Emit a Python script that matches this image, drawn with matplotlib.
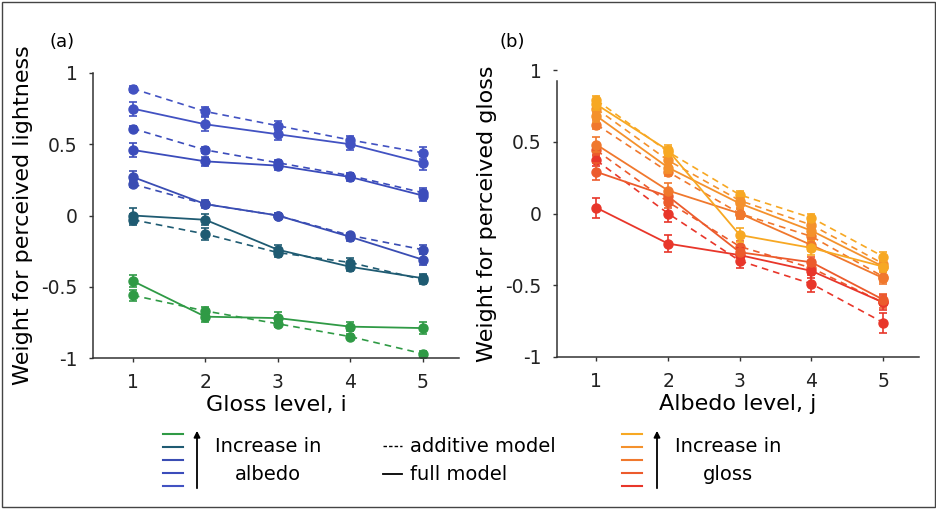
import numpy as np
import matplotlib
matplotlib.use('Agg')
import matplotlib.pyplot as plt
from matplotlib.lines import Line2D
from matplotlib.patches import Rectangle

plt.rcParams['font.family'] = ['DejaVu Sans']

levels = [1, 2, 3, 4, 5]

# panel (a): lightness weights, one row per albedo level (low -> high)
albedo_colors = ['#2f9a45', '#1f5b72', '#3a4db3', '#3b4cbb', '#4252c2']
light_full = [
    [-0.46, -0.71, -0.72, -0.78, -0.79],
    [0.00, -0.03, -0.24, -0.36, -0.44],
    [0.27, 0.08, 0.00, -0.15, -0.31],
    [0.46, 0.38, 0.35, 0.27, 0.14],
    [0.75, 0.64, 0.57, 0.50, 0.37],
]
light_full_err = [
    [0.04, 0.04, 0.04, 0.03, 0.04],
    [0.05, 0.04, 0.03, 0.03, 0.03],
    [0.04, 0.03, 0.02, 0.03, 0.04],
    [0.05, 0.03, 0.03, 0.03, 0.04],
    [0.05, 0.05, 0.04, 0.04, 0.05],
]
light_add = [
    [-0.56, -0.67, -0.76, -0.85, -0.97],
    [-0.03, -0.13, -0.26, -0.33, -0.45],
    [0.22, 0.08, 0.00, -0.14, -0.24],
    [0.61, 0.46, 0.37, 0.28, 0.16],
    [0.89, 0.73, 0.63, 0.53, 0.44],
]
light_add_err = [
    [0.04, 0.03, 0.02, 0.02, 0.02],
    [0.04, 0.04, 0.03, 0.03, 0.03],
    [0.02, 0.02, 0.02, 0.02, 0.03],
    [0.02, 0.02, 0.02, 0.02, 0.03],
    [0.02, 0.03, 0.03, 0.03, 0.04],
]

# panel (b): gloss weights, one row per gloss level (low -> high)
gloss_colors = ['#e8362a', '#ec5b2c', '#f0782d', '#f4912c', '#f7a823']
gloss_full = [
    [0.04, -0.21, -0.29, -0.40, -0.62],
    [0.29, 0.12, -0.27, -0.34, -0.60],
    [0.48, 0.16, 0.00, -0.22, -0.45],
    [0.68, 0.32, 0.07, -0.12, -0.37],
    [0.76, 0.44, -0.15, -0.24, -0.37],
]
gloss_full_err = [
    [0.07, 0.06, 0.05, 0.05, 0.05],
    [0.06, 0.05, 0.05, 0.04, 0.04],
    [0.05, 0.05, 0.04, 0.04, 0.04],
    [0.04, 0.04, 0.04, 0.04, 0.04],
    [0.04, 0.04, 0.05, 0.05, 0.04],
]
gloss_add = [
    [0.37, 0.00, -0.33, -0.49, -0.76],
    [0.44, 0.08, -0.23, -0.38, -0.62],
    [0.62, 0.29, 0.00, -0.16, -0.44],
    [0.73, 0.37, 0.09, -0.08, -0.35],
    [0.79, 0.43, 0.13, -0.03, -0.30],
]
gloss_add_err = [
    [0.04, 0.06, 0.05, 0.06, 0.07],
    [0.04, 0.04, 0.04, 0.04, 0.04],
    [0.03, 0.03, 0.03, 0.03, 0.04],
    [0.03, 0.03, 0.03, 0.03, 0.03],
    [0.03, 0.03, 0.03, 0.03, 0.03],
]

W, H = 937, 509
fig = plt.figure(figsize=(W / 100, H / 100), dpi=100)


def fx(px):
    return px / W


def fy(py):
    return 1 - py / H


def draw_panel(ax, full, full_err, add, add_err, colors):
    for k in range(len(colors)):
        ax.errorbar(levels, add[k], yerr=add_err[k], color=colors[k], lw=1.2,
                    ls=(0, (4, 3)), marker='o', ms=6.5, capsize=3, elinewidth=1.2,
                    capthick=1.2, zorder=2)
        ax.errorbar(levels, full[k], yerr=full_err[k], color=colors[k], lw=1.3,
                    marker='o', ms=6.5, capsize=3, elinewidth=1.2, capthick=1.2,
                    zorder=3)
    ax.set_xlim(0.45, 5.5)
    ax.set_ylim(-1, 1)
    ax.set_xticks(levels)
    ax.set_yticks([-1, -0.5, 0, 0.5, 1])
    ax.set_yticklabels(['-1', '-0.5', '0', '0.5', '1'])
    for s in ['top', 'right']:
        ax.spines[s].set_visible(False)
    for s in ['left', 'bottom']:
        ax.spines[s].set_color('#333333')
        ax.spines[s].set_linewidth(1.1)
    ax.tick_params(direction='out', length=3, width=1, colors='#333333',
                   labelsize=13.5, labelcolor='#222222', pad=8)


ax1 = fig.add_axes([fx(93), fy(358), fx(459) - fx(93), fy(73) - fy(358)])
draw_panel(ax1, light_full, light_full_err, light_add, light_add_err, albedo_colors)
ax1.set_xlabel('Gloss level, i', fontsize=16, labelpad=2)
ax1.set_ylabel('Weight for perceived lightness', fontsize=16, labelpad=6)

ax2 = fig.add_axes([fx(557), fy(357), fx(919) - fx(557), fy(70) - fy(357)])
draw_panel(ax2, gloss_full, gloss_full_err, gloss_add, gloss_add_err, gloss_colors)
ax2.spines['left'].set_bounds(-1, 0.92)
ax2.set_xlabel('Albedo level, j', fontsize=16, labelpad=2)
ax2.set_ylabel('Weight for perceived gloss', fontsize=16, labelpad=6)

fig.text(fx(62), fy(42), '(a)', fontsize=13, ha='center', va='center')
fig.text(fx(512), fy(42), '(b)', fontsize=13, ha='center', va='center')

# custom legend below the panels
leg_y = [434, 447, 460, 473, 486]
for colors, x0, ax_arrow, tx, word in [(albedo_colors, 163, 197, 268, 'albedo'),
                                       (gloss_colors, 622, 657, 728, 'gloss')]:
    top_down = colors[::-1] if word == 'gloss' else colors
    for c, yy in zip(top_down, leg_y):
        fig.add_artist(Line2D([fx(x0), fx(x0 + 20)], [fy(yy), fy(yy)],
                              color=c, lw=1.5, transform=fig.transFigure))
    fig.add_artist(matplotlib.patches.FancyArrowPatch(
        (fx(ax_arrow), fy(491)), (fx(ax_arrow), fy(428)), transform=fig.transFigure,
        arrowstyle='-|>', mutation_scale=9, lw=1.3, color='black'))
    fig.text(fx(tx), fy(446), 'Increase in', fontsize=14, ha='center', va='center')
    fig.text(fx(tx), fy(474), word, fontsize=14, ha='center', va='center')

fig.add_artist(Line2D([fx(383), fx(402)], [fy(446), fy(446)], color='black', lw=1,
                      ls=(0, (2.5, 1.5)), transform=fig.transFigure))
fig.add_artist(Line2D([fx(383), fx(402)], [fy(474), fy(474)], color='black', lw=1.3,
                      transform=fig.transFigure))
fig.text(fx(410), fy(446), 'additive model', fontsize=14, ha='left', va='center')
fig.text(fx(410), fy(474), 'full model', fontsize=14, ha='left', va='center')

# thin frame round the whole figure
fig.add_artist(Rectangle((0.002, 0.003), 0.996, 0.994, transform=fig.transFigure,
                         fill=False, lw=1, edgecolor='#444444'))

fig.savefig('out.png', dpi=100)
